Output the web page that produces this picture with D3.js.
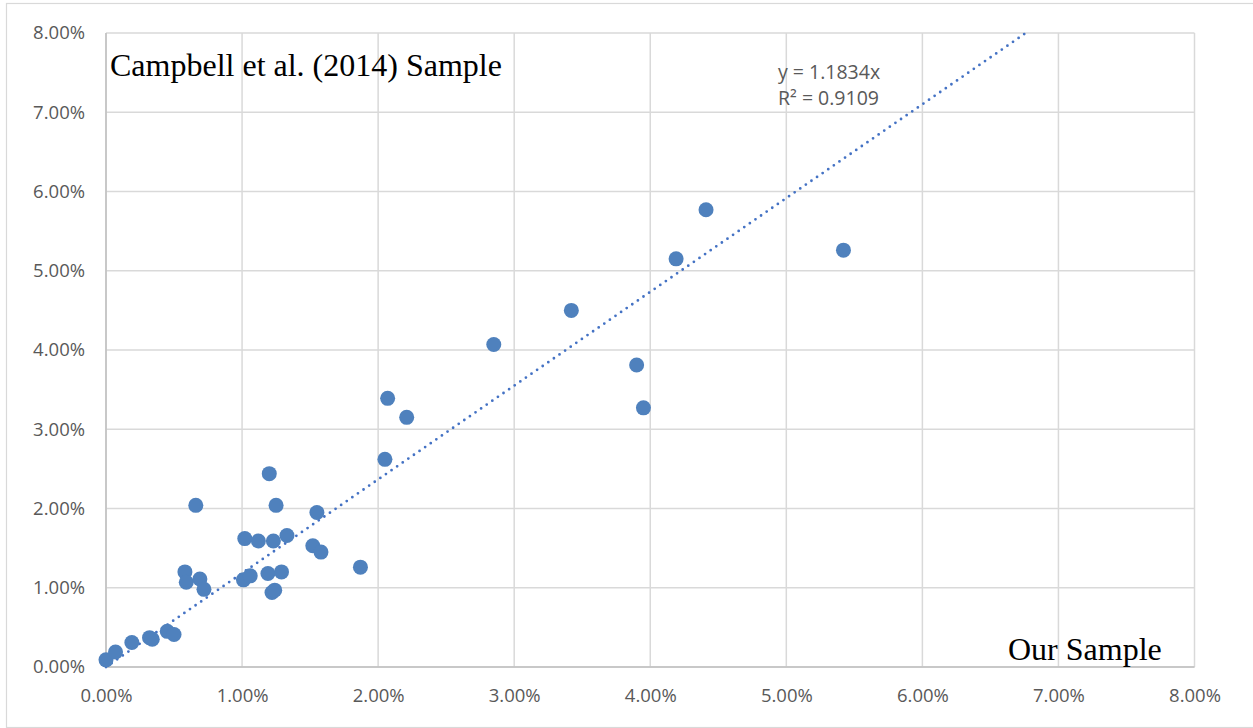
<!DOCTYPE html>
<html>
  <head>
    <meta charset="utf-8">
    <title>Our Sample vs Campbell et al. (2014) Sample</title>
    <style>
      html, body {
        margin: 0;
        padding: 0;
        background: #ffffff;
      }
      svg text {
        font-family: "Open Sans", "Liberation Sans", sans-serif;
      }
    </style>
  </head>
  <body>
    <script src="https://cdn.jsdelivr.net/npm/d3@7"></script>
    <div id="chart"></div>
    <script>

      // values in percent
      var ourSample = [0.00, 0.07, 0.19, 0.32, 0.34, 0.45, 0.50, 0.58, 0.59, 0.69,
                       0.72, 0.66, 1.01, 1.06, 1.02, 1.12, 1.23, 1.33, 1.20, 1.25,
                       1.19, 1.29, 1.22, 1.24, 1.55, 1.52, 1.58, 1.87, 2.05, 2.07,
                       2.21, 2.85, 3.42, 3.90, 3.95, 4.19, 4.41, 5.42]
      var campbellSample = [0.09, 0.19, 0.31, 0.37, 0.35, 0.45, 0.41, 1.20, 1.07, 1.11,
                            0.98, 2.04, 1.10, 1.15, 1.62, 1.59, 1.59, 1.66, 2.44, 2.04,
                            1.18, 1.20, 0.94, 0.97, 1.95, 1.53, 1.45, 1.26, 2.62, 3.39,
                            3.15, 4.07, 4.50, 3.81, 3.27, 5.15, 5.77, 5.26]

      var ticks = [0, 1, 2, 3, 4, 5, 6, 7, 8]
      var slope = 1.1834
      var rSquared = 0.9109

      var points = ourSample.map(function(d, i) { return {x: d, y: campbellSample[i]} })

      var width = 1253, height = 728

      var svg = d3.select("#chart")
        .append("svg")
        .attr("width", width)
        .attr("height", height)

      // outer chart border
      svg.append("rect")
        .attr("x", 6.5)
        .attr("y", 3.5)
        .attr("width", width)
        .attr("height", height - 4)
        .attr("fill", "none")
        .attr("stroke", "#d9d9d9")
        .attr("stroke-width", 1.2)

      var x = d3.scaleLinear().domain([0, 8]).range([106, 1194.5])
      var y = d3.scaleLinear().domain([0, 8]).range([667, 33])

      // gridlines
      svg.append("g")
        .selectAll("line")
        .data(ticks)
        .enter()
        .append("line")
        .attr("x1", function(d) { return x(d) })
        .attr("x2", function(d) { return x(d) })
        .attr("y1", y(0))
        .attr("y2", y(8))
        .attr("stroke", "#d9d9d9")
        .attr("stroke-width", 1.5)

      svg.append("g")
        .selectAll("line")
        .data(ticks)
        .enter()
        .append("line")
        .attr("x1", x(0))
        .attr("x2", x(8))
        .attr("y1", function(d) { return y(d) })
        .attr("y2", function(d) { return y(d) })
        .attr("stroke", "#d9d9d9")
        .attr("stroke-width", 1.5)

      // axis lines a bit darker
      svg.append("line")
        .attr("x1", x(0)).attr("x2", x(8))
        .attr("y1", y(0)).attr("y2", y(0))
        .attr("stroke", "#bfbfbf")
        .attr("stroke-width", 1.5)
      svg.append("line")
        .attr("x1", x(0)).attr("x2", x(0))
        .attr("y1", y(0)).attr("y2", y(8))
        .attr("stroke", "#bfbfbf")
        .attr("stroke-width", 1.5)

      // axes (labels only)
      var fmt = function(d) { return d.toFixed(2) + "%" }

      var xAxis = svg.append("g")
        .attr("transform", "translate(0," + y(0) + ")")
        .call(d3.axisBottom(x).tickValues(ticks).tickFormat(fmt).tickSize(0).tickPadding(22))
      var yAxis = svg.append("g")
        .attr("transform", "translate(" + x(0) + ",0)")
        .call(d3.axisLeft(y).tickValues(ticks).tickFormat(fmt).tickSize(0).tickPadding(21))

      ;[xAxis, yAxis].forEach(function(a) {
        a.select(".domain").remove()
        a.selectAll("text")
          .attr("fill", "#595959")
          .style("font-size", "18.5px")
          .style("font-family", "'Open Sans', 'Liberation Sans', sans-serif")
      })

      // linear trendline through the origin
      var xEnd = 8 / slope
      svg.append("line")
        .attr("x1", x(0))
        .attr("y1", y(0))
        .attr("x2", x(xEnd))
        .attr("y2", y(slope * xEnd))
        .attr("stroke", "#4472c4")
        .attr("stroke-width", 2.8)
        .attr("stroke-linecap", "round")
        .attr("stroke-dasharray", "0,6.8")

      // scatter points
      svg.append("g")
        .selectAll("circle")
        .data(points)
        .enter()
        .append("circle")
        .attr("cx", function(d) { return x(d.x) })
        .attr("cy", function(d) { return y(d.y) })
        .attr("r", 7.5)
        .attr("fill", "#4f81bd")

      // trendline label
      svg.append("text")
        .attr("x", 778)
        .attr("y", 79)
        .attr("fill", "#595959")
        .style("font-size", "19.5px")
        .text("y = " + slope + "x")
      svg.append("text")
        .attr("x", 778)
        .attr("y", 105)
        .attr("fill", "#595959")
        .style("font-size", "19.5px")
        .text("R\u00b2 = " + rSquared)

      // axis titles placed inside the plot
      svg.append("text")
        .attr("x", 110)
        .attr("y", 76)
        .attr("fill", "#000000")
        .style("font-family", "'Liberation Serif', 'DejaVu Serif', serif")
        .style("font-size", "32px")
        .text("Campbell et al. (2014) Sample")
      svg.append("text")
        .attr("x", 1008)
        .attr("y", 660)
        .attr("fill", "#000000")
        .style("font-family", "'Liberation Serif', 'DejaVu Serif', serif")
        .style("font-size", "32px")
        .text("Our Sample")

    </script>
  </body>
</html>
